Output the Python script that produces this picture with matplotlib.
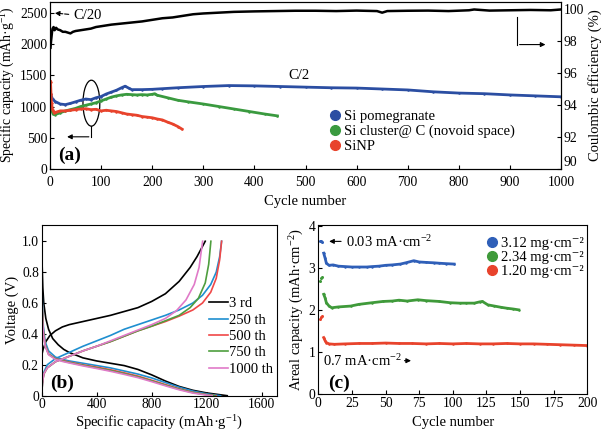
import matplotlib
matplotlib.use("Agg")
import matplotlib.pyplot as plt
from matplotlib.lines import Line2D
from matplotlib.patches import Ellipse

plt.rcParams["font.family"] = ["Liberation Serif", "DejaVu Serif"]
plt.rcParams["mathtext.fontset"] = "custom"
plt.rcParams["mathtext.rm"] = "Liberation Serif"
plt.rcParams["mathtext.it"] = "Liberation Serif:italic"
plt.rcParams["font.size"] = 10
plt.rcParams["xtick.direction"] = "in"
plt.rcParams["ytick.direction"] = "in"

# ---- panel (a): long cycling, specific capacity + coulombic efficiency ----
ce_cycles = [1, 2, 3, 4, 5, 7, 9, 12, 15, 20, 25, 30, 35, 40, 45, 50, 60, 70, 80, 90,
             100, 110, 120, 135, 150, 165, 180, 200, 220, 240, 260, 280, 300, 330,
             360, 400, 440, 480, 520, 560, 600, 640, 650, 660, 700, 740, 780, 820,
             830, 860, 900, 940, 980, 1000]
ce_values = [97.6, 98.0, 98.3, 98.6, 98.8, 98.9, 98.7, 98.85, 98.75, 98.7, 98.6, 98.6,
             98.55, 98.5, 98.6, 98.65, 98.7, 98.75, 98.8, 98.9, 98.95, 99.0, 99.05,
             99.1, 99.15, 99.2, 99.25, 99.35, 99.45, 99.5, 99.6, 99.7, 99.75, 99.8,
             99.85, 99.88, 99.9, 99.92, 99.92, 99.9, 99.93, 99.9, 99.8, 99.9, 99.92,
             99.93, 99.9, 99.95, 100.0, 99.93, 99.95, 99.97, 99.95, 100.0]

pom_cycles = [1, 5, 10, 20, 30, 40, 50, 60, 70, 80, 90, 100, 110, 120, 130, 140, 147,
              155, 160, 180, 200, 220, 250, 300, 350, 400, 450, 500, 550, 600, 650,
              700, 750, 800, 850, 900, 950, 1000]
pom_values = [1200, 1120, 1080, 1040, 1030, 1050, 1075, 1100, 1120, 1110, 1140, 1160,
              1200, 1230, 1260, 1300, 1325, 1290, 1270, 1270, 1275, 1285, 1300, 1320,
              1335, 1330, 1320, 1310, 1300, 1295, 1280, 1265, 1235, 1215, 1205, 1185,
              1170, 1155]

cluster_cycles = [1, 3, 6, 10, 20, 30, 40, 50, 60, 70, 80, 90, 100, 110, 120, 130, 140,
                  150, 160, 170, 180, 190, 200, 205, 210, 230, 250, 270, 300, 330, 360,
                  390, 420, 445]
cluster_values = [1000, 950, 880, 870, 900, 930, 950, 970, 1000, 1020, 1040, 1060, 1090,
                  1120, 1150, 1170, 1185, 1195, 1190, 1185, 1190, 1185, 1195, 1205, 1180,
                  1140, 1100, 1075, 1040, 1000, 960, 920, 880, 850]

sinp_cycles = [1, 2, 3, 5, 8, 12, 20, 30, 40, 50, 60, 70, 80, 90, 100, 110, 120, 130,
               140, 150, 160, 170, 180, 190, 200, 210, 220, 230, 240, 250, 258]
sinp_values = [1400, 1200, 1050, 950, 900, 910, 930, 930, 940, 950, 960, 965, 950, 955,
               930, 940, 930, 920, 900, 880, 870, 860, 840, 830, 820, 800, 785, 750,
               720, 680, 640]

labels_a = ["Si pomegranate", "Si cluster@ C (novoid space)", "SiNP"]
colors_a = ["#2b4ea2", "#3a9a3f", "#e8432c"]

# ---- panel (b): voltage profiles ----
b_labels = ["3 rd", "250 th", "500 th", "750 th", "1000 th"]
b_colors = ["#000000", "#1f8fd0", "#f04848", "#4e9e3e", "#e07ac8"]

chg_cap = [
    [0, 10, 30, 60, 100, 150, 200, 300, 400, 500, 600, 700, 800, 900, 1000, 1080, 1130, 1160, 1190],
    [0, 5, 15, 40, 100, 200, 300, 400, 500, 600, 700, 800, 900, 1000, 1100, 1170, 1230, 1270, 1295, 1309],
    [0, 5, 15, 40, 100, 200, 300, 400, 500, 600, 700, 800, 900, 1000, 1100, 1170, 1230, 1270, 1295, 1309],
    [0, 5, 15, 40, 100, 200, 300, 400, 500, 600, 700, 800, 900, 1000, 1080, 1140, 1190, 1215, 1231],
    [0, 5, 15, 40, 100, 200, 300, 400, 500, 600, 700, 800, 900, 980, 1050, 1110, 1145, 1171],
]
chg_volt = [
    [0.26, 0.30, 0.35, 0.39, 0.42, 0.445, 0.46, 0.48, 0.50, 0.52, 0.545, 0.57, 0.61, 0.66, 0.74, 0.83, 0.90, 0.95, 1.0],
    [0.0, 0.08, 0.15, 0.20, 0.24, 0.28, 0.32, 0.355, 0.39, 0.43, 0.46, 0.49, 0.52, 0.555, 0.60, 0.65, 0.72, 0.80, 0.90, 1.0],
    [0.0, 0.08, 0.14, 0.18, 0.22, 0.255, 0.29, 0.32, 0.35, 0.385, 0.42, 0.45, 0.48, 0.515, 0.555, 0.60, 0.67, 0.76, 0.88, 1.0],
    [0.0, 0.08, 0.14, 0.18, 0.22, 0.255, 0.29, 0.32, 0.35, 0.385, 0.42, 0.45, 0.485, 0.52, 0.57, 0.63, 0.73, 0.85, 1.0],
    [0.0, 0.08, 0.14, 0.18, 0.22, 0.255, 0.29, 0.32, 0.355, 0.39, 0.425, 0.46, 0.50, 0.55, 0.62, 0.72, 0.83, 1.0],
]
dis_cap = [
    [0, 3, 8, 15, 30, 50, 80, 120, 160, 200, 300, 400, 500, 600, 700, 800, 900, 1000, 1100, 1200, 1300, 1350],
    [0, 5, 12, 25, 50, 100, 150, 200, 300, 400, 500, 600, 700, 800, 900, 1000, 1100, 1200, 1300],
    [0, 5, 12, 25, 50, 100, 150, 200, 300, 400, 500, 600, 700, 800, 900, 1000, 1100, 1200, 1270],
    [0, 5, 12, 25, 50, 100, 150, 200, 300, 400, 500, 600, 700, 800, 900, 1000, 1100, 1200, 1260],
    [0, 5, 12, 25, 50, 100, 150, 200, 300, 400, 500, 600, 700, 800, 900, 1000, 1100, 1200, 1240],
]
dis_volt = [
    [1.0, 0.85, 0.70, 0.60, 0.50, 0.43, 0.37, 0.33, 0.30, 0.28, 0.245, 0.225, 0.21, 0.195, 0.17, 0.135, 0.095, 0.06, 0.035, 0.018, 0.006, 0.0],
    [0.78, 0.60, 0.45, 0.35, 0.29, 0.25, 0.235, 0.225, 0.21, 0.195, 0.18, 0.16, 0.14, 0.115, 0.085, 0.055, 0.03, 0.012, 0.0],
    [0.72, 0.55, 0.42, 0.33, 0.27, 0.24, 0.228, 0.218, 0.20, 0.185, 0.168, 0.148, 0.127, 0.10, 0.072, 0.045, 0.022, 0.007, 0.0],
    [0.70, 0.54, 0.41, 0.325, 0.268, 0.238, 0.225, 0.215, 0.197, 0.18, 0.163, 0.143, 0.122, 0.096, 0.068, 0.042, 0.02, 0.006, 0.0],
    [0.68, 0.52, 0.40, 0.32, 0.265, 0.235, 0.222, 0.212, 0.193, 0.176, 0.158, 0.138, 0.117, 0.091, 0.064, 0.038, 0.017, 0.004, 0.0],
]

# ---- panel (c): areal capacity ----
c_labels = ["3.12 mg·cm⁻²", "2.34 mg·cm⁻²", "1.20 mg·cm⁻²"]
c_colors = ["#2f5fb8", "#3f9a3a", "#e8432c"]

hi_cycles = [1, 2, 3, 4, 5, 6, 8, 11, 15, 20, 25, 30, 36, 40, 45, 50, 55, 61, 65, 71, 75, 80, 86, 90, 95, 101]
hi_values = [3.65, 3.66, 3.62, 3.36, 3.25, 3.12, 3.07, 3.08, 3.05, 3.04, 3.03, 3.03, 3.03, 3.04, 3.05, 3.07, 3.08, 3.1, 3.13, 3.18, 3.15, 3.14, 3.13, 3.12, 3.11, 3.1]

mid_cycles = [1, 2, 3, 4, 5, 6, 8, 10, 15, 24, 30, 40, 48, 55, 60, 66, 74, 80, 90, 98, 105, 110, 116, 120, 122, 126, 131, 136, 140, 145, 149]
mid_values = [2.70, 2.76, 2.80, 2.38, 2.30, 2.18, 2.10, 2.06, 2.08, 2.10, 2.14, 2.18, 2.21, 2.22, 2.24, 2.22, 2.25, 2.23, 2.21, 2.18, 2.17, 2.17, 2.17, 2.20, 2.21, 2.13, 2.10, 2.07, 2.05, 2.03, 2.01]

lo_cycles = [1, 2, 3, 4, 5, 6, 8, 12, 20, 30, 40, 50, 60, 70, 80, 90, 100, 110, 120, 130, 140, 150, 160, 170, 180, 190, 200]
lo_values = [1.80, 1.83, 1.86, 1.35, 1.28, 1.23, 1.20, 1.19, 1.20, 1.21, 1.21, 1.22, 1.21, 1.21, 1.20, 1.21, 1.20, 1.21, 1.20, 1.20, 1.21, 1.20, 1.20, 1.19, 1.18, 1.17, 1.16]

fig = plt.figure(figsize=(6.04, 4.33), dpi=100)
W, H = 604.0, 433.0

def frac_axes(x0, y0, x1, y1):
    return fig.add_axes([x0 / W, 1 - y1 / H, (x1 - x0) / W, (y1 - y0) / H])

# ---------------- (a) ----------------
ax = frac_axes(50, 1.5, 561, 169)
for cyc, val, col in zip([pom_cycles, cluster_cycles, sinp_cycles],
                         [pom_values, cluster_values, sinp_values], colors_a):
    ax.plot(cyc, val, "-", color=col, lw=2.0, marker="o", ms=1.8, mew=0)
ax.set_xlim(0, 1000)
ax.set_ylim(0, 2680)
ax.set_xticks(range(0, 1001, 100))
ax.set_yticks(range(0, 2501, 500))
ax.set_xlabel("Cycle number", fontsize=10.5, labelpad=4)
ax.set_ylabel("Specific capacity (mAh·g$^{-1}$)", fontsize=9.8, labelpad=2)
ax.tick_params(axis="y", labelsize=9.8, length=3, pad=2)
ax.tick_params(axis="x", labelsize=9.8, length=3, pad=5)

ax2 = ax.twinx()
ax2.plot(ce_cycles, ce_values, "-", color="k", lw=1.8)
ax2.set_ylim(90, 100.5)
ax2.set_yticks(range(90, 101, 2))
ax2.set_ylabel("Coulombic efficiency (%)", fontsize=10.5, labelpad=3)
ax2.tick_params(labelsize=9.8, length=3, pad=2)
ax2.get_yticklabels()[0].set_va("bottom")

ax.annotate("", xy=(4, 2500), xytext=(42, 2470),
            arrowprops=dict(arrowstyle="-|>", ls="--", lw=0.8, color="k", mutation_scale=7))
ax.text(45, 2450, "C/20", fontsize=10.5, va="center", ha="left")
ax.text(488, 1500, "C/2", fontsize=10.5, va="center", ha="center")
ax.add_patch(Ellipse((81, 1053), width=33, height=735, fill=False, lw=0.9, color="k"))
ax.plot([81, 81], [686, 515], color="k", lw=0.8)
ax.annotate("", xy=(28, 515), xytext=(81.5, 515),
            arrowprops=dict(arrowstyle="-|>", lw=0.8, color="k", mutation_scale=7))
ax2.plot([914, 914], [99.5, 97.8], color="k", lw=0.8)
ax2.annotate("", xy=(975, 97.8), xytext=(913.5, 97.8),
             arrowprops=dict(arrowstyle="-|>", lw=0.8, color="k", mutation_scale=7))
ax.text(16, 220, "(a)", fontsize=14, fontweight="bold", va="center", ha="left")

handles_a = [Line2D([], [], ls="none", marker="o", ms=7, color=c) for c in colors_a]
ax.legend(handles_a, labels_a, loc="upper left", bbox_to_anchor=(331 / W, 1 - 110 / H),
          bbox_transform=fig.transFigure, frameon=False, fontsize=10.5,
          handlelength=0.6, handletextpad=0.3, labelspacing=0.12, borderpad=0, borderaxespad=0)

# ---------------- (b) ----------------
bx = frac_axes(41.7, 225, 276.7, 395.7)
for i in range(len(b_labels)):
    bx.plot(chg_cap[i], chg_volt[i], color=b_colors[i], lw=1.2)
    bx.plot(dis_cap[i], dis_volt[i], color=b_colors[i], lw=1.2)
bx.set_xlim(0, 1710)
bx.set_ylim(0, 1.105)
bx.set_xticks([0, 400, 800, 1200, 1600])
bx.set_yticks([0, 0.2, 0.4, 0.6, 0.8, 1.0])
bx.set_yticklabels(["0", "0.2", "0.4", "0.6", "0.8", "1.0"])
bx.set_xlabel("Specific capacity (mAh·g$^{-1}$)", fontsize=10.5, labelpad=2)
bx.set_ylabel("Voltage (V)", fontsize=10.5, labelpad=2)
bx.tick_params(labelsize=9.8, length=3, pad=2)
bx.text(60, 0.08, "(b)", fontsize=14, fontweight="bold", va="center", ha="left")
handles_b = [Line2D([], [], color=c, lw=1.2) for c in b_colors]
bx.legend(handles_b, b_labels, loc="upper left", bbox_to_anchor=(209 / W, 1 - 297 / H),
          bbox_transform=fig.transFigure, frameon=False, fontsize=10.5,
          handlelength=1.3, handletextpad=0.1, labelspacing=0.22, borderpad=0, borderaxespad=0)

# ---------------- (c) ----------------
cx = frac_axes(318.3, 225, 587.3, 394.3)
for cyc, val, col in zip([hi_cycles, mid_cycles, lo_cycles],
                         [hi_values, mid_values, lo_values], c_colors):
    cx.plot(cyc[:3], val[:3], ls="none", marker="o", ms=2.2, mew=0, color=col)
    cx.plot(cyc[3:], val[3:], "-", color=col, lw=2.0, marker="o", ms=1.8, mew=0)
cx.set_xlim(0, 200)
cx.set_ylim(0, 4.03)
cx.set_xticks(range(0, 201, 25))
cx.set_yticks(range(0, 5))
cx.set_xlabel("Cycle number", fontsize=10.5, labelpad=4)
cx.set_ylabel("Areal capacity (mAh·cm$^{-2}$)", fontsize=10.5, labelpad=2)
cx.tick_params(labelsize=9.8, length=3, pad=2)
cx.annotate("", xy=(6, 3.64), xytext=(19, 3.64),
            arrowprops=dict(arrowstyle="-|>", lw=0.8, color="k", mutation_scale=7))
cx.text(20.5, 3.62, "0.03 mA·cm$^{-2}$", fontsize=10.5, va="center", ha="left")
cx.text(3.5, 0.8, "0.7 mA·cm$^{-2}$", fontsize=10.5, va="center", ha="left")
cx.annotate("", xy=(71, 0.8), xytext=(62, 0.8),
            arrowprops=dict(arrowstyle="-|>", lw=0.8, color="k", mutation_scale=7))
cx.text(7, 0.26, "(c)", fontsize=14, fontweight="bold", va="center", ha="left")
handles_c = [Line2D([], [], ls="none", marker="o", ms=7, color=c) for c in c_colors]
cx.legend(handles_c, c_labels, loc="upper left", bbox_to_anchor=(488 / W, 1 - 237 / H),
          bbox_transform=fig.transFigure, frameon=False, fontsize=10.5,
          handlelength=0.6, handletextpad=0.3, labelspacing=0.05, borderpad=0, borderaxespad=0)

fig.savefig("out.png", dpi=100)
